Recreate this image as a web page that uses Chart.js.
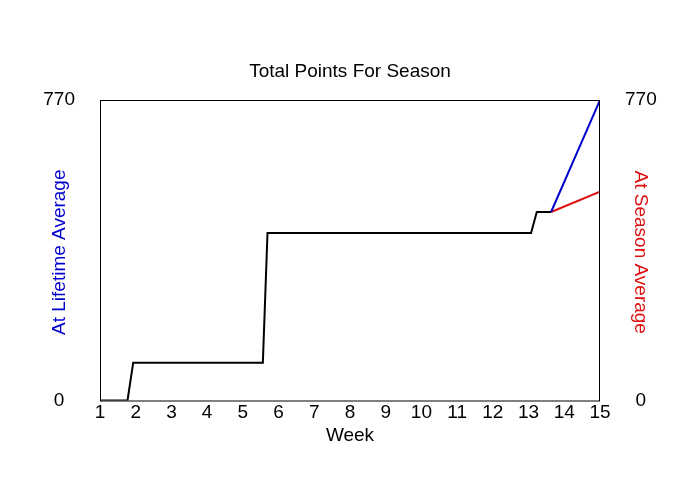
<!DOCTYPE html>
<html>
<head>
<meta charset="utf-8">
<script src="https://cdn.jsdelivr.net/npm/chart.js@4"></script>
<style>
  body { margin: 0; background: #fff; }
</style>
</head>
<body>
<canvas id="chart" width="700" height="500"></canvas>
<script>
// weeks (x) and cumulative points (y)
const actualWeeks = [1, 1.77, 1.93, 5.56, 5.69, 13.07, 13.23, 13.63];
const actualPoints = [0, 0, 97, 97, 429, 429, 483, 483];
const lifetimeWeeks = [13.63, 15];
const lifetimePoints = [483, 770];
const seasonWeeks = [13.63, 15];
const seasonPoints = [483, 535];
const yTicks = [0, 770];

const toXY = (xs, ys) => xs.map((x, i) => ({ x: x, y: ys[i] }));

const FONT = 'Liberation Sans, Arial, sans-serif';
const SIZE = 19;

// frame round the plot area and the two side titles
const framePlugin = {
    id: 'frame',
    afterDraw(chart) {
        const { ctx, chartArea: a } = chart;
        const midY = (a.top + a.bottom) / 2 + 2;
        ctx.save();
        ctx.strokeStyle = '#000';
        ctx.lineWidth = 1;
        ctx.strokeRect(a.left + 0.5, a.top + 0.5, a.right - a.left - 1, a.bottom - a.top);
        ctx.font = SIZE + 'px ' + FONT;
        ctx.textAlign = 'center';
        ctx.textBaseline = 'middle';
        ctx.fillStyle = '#0000cc';
        ctx.translate(60, midY);
        ctx.rotate(-Math.PI / 2);
        ctx.fillText('At Lifetime Average', 0, 0);
        ctx.restore();
        ctx.save();
        ctx.font = SIZE + 'px ' + FONT;
        ctx.textAlign = 'center';
        ctx.textBaseline = 'middle';
        ctx.fillStyle = '#dd1111';
        ctx.translate(640, midY);
        ctx.rotate(Math.PI / 2);
        ctx.fillText('At Season Average', 0, 0);
        ctx.restore();
    }
};

const sideAxis = (pos) => ({
    type: 'linear',
    position: pos,
    min: 0,
    max: 770,
    afterBuildTicks: (scale) => { scale.ticks = yTicks.map(v => ({ value: v })); },
    afterFit: (scale) => { scale.width = 100; },
    grid: { display: false, drawTicks: false },
    border: { display: false },
    ticks: {
        color: '#000',
        font: { family: FONT, size: SIZE },
        padding: 25,
        crossAlign: 'center'
    }
});

new Chart(document.getElementById('chart'), {
    type: 'line',
    data: {
        datasets: [
            {
                data: toXY(lifetimeWeeks, lifetimePoints),
                borderColor: '#0000cc',
                borderWidth: 2,
                pointRadius: 0
            },
            {
                data: toXY(seasonWeeks, seasonPoints),
                borderColor: '#dd1111',
                borderWidth: 2,
                pointRadius: 0
            },
            {
                data: toXY(actualWeeks, actualPoints),
                borderColor: '#000',
                borderWidth: 2,
                pointRadius: 0
            }
        ]
    },
    options: {
        responsive: false,
        animation: false,
        layout: { padding: { bottom: 52.7 } },
        plugins: {
            legend: { display: false },
            tooltip: { enabled: false },
            title: {
                display: true,
                text: 'Total Points For Season',
                color: '#000',
                font: { family: FONT, size: SIZE, weight: 'normal' },
                padding: { top: 60.6, bottom: 16.6 }
            }
        },
        scales: {
            x: {
                type: 'linear',
                min: 1,
                max: 15,
                grid: { display: false, drawTicks: false },
                border: { display: false },
                ticks: {
                    stepSize: 1,
                    color: '#000',
                    font: { family: FONT, size: SIZE, lineHeight: 1 },
                    padding: 2.5,
                    maxRotation: 0,
                    autoSkip: false
                },
                title: {
                    display: true,
                    text: 'Week',
                    color: '#000',
                    font: { family: FONT, size: SIZE },
                    padding: 0
                }
            },
            y: sideAxis('left'),
            y2: sideAxis('right')
        }
    },
    plugins: [framePlugin]
});
</script>
</body>
</html>
